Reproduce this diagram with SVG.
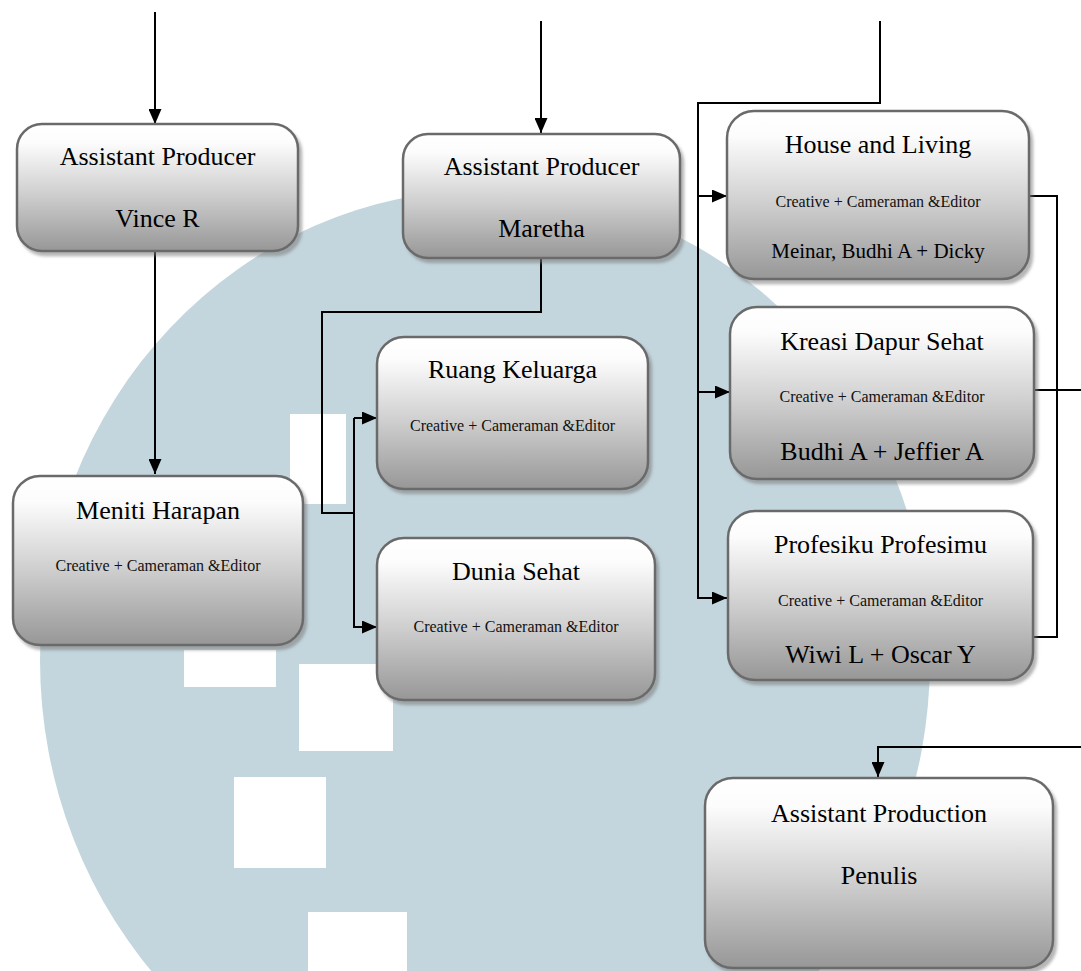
<svg xmlns="http://www.w3.org/2000/svg" width="1081" height="971" viewBox="0 0 1081 971">
<defs>
<linearGradient id="g" x1="0" y1="0" x2="0" y2="1">
<stop offset="0" stop-color="#ffffff"/>
<stop offset="0.15" stop-color="#fcfcfc"/>
<stop offset="0.55" stop-color="#cfcfcf"/>
<stop offset="1" stop-color="#979797"/>
</linearGradient>
<filter id="sh" x="-10%" y="-10%" width="125%" height="130%">
<feDropShadow dx="3" dy="4" stdDeviation="1.5" flood-color="#7a7a7a" flood-opacity="0.55"/>
</filter>
<marker id="ar" markerUnits="userSpaceOnUse" viewBox="0 0 15 13" refX="15" refY="6.5" markerWidth="15" markerHeight="13" orient="auto">
<path d="M0,0 L15,6.5 L0,13 Z" fill="#000"/>
</marker>
<style>
.box{fill:url(#g);stroke:#6b6b6b;stroke-width:2.5;filter:url(#sh)}
.t{font-family:"Liberation Serif","Times New Roman",serif;font-size:26px;fill:#000;text-anchor:middle}
.s{font-family:"Liberation Serif","Times New Roman",serif;font-size:16px;fill:#111;text-anchor:middle}
.m{font-family:"Liberation Serif","Times New Roman",serif;font-size:21px;fill:#000;text-anchor:middle}
.c{fill:none;stroke:#000;stroke-width:2}
</style>
</defs>
<rect width="1081" height="971" fill="#ffffff"/>
<g id="watermark">
<ellipse cx="485" cy="660" rx="445" ry="470" fill="#c3d6dd"/>
<rect x="290" y="414" width="56" height="90" fill="#ffffff"/>
<rect x="184" y="650" width="92" height="37" fill="#ffffff"/>
<rect x="299" y="664" width="94" height="87" fill="#ffffff"/>
<rect x="234" y="777" width="92" height="91" fill="#ffffff"/>
<rect x="308" y="912" width="99" height="59" fill="#ffffff"/>
</g>
<g id="connectors">
<path class="c" d="M155,12 V124" marker-end="url(#ar)"/>
<path class="c" d="M155,251 V474" marker-end="url(#ar)"/>
<path class="c" d="M541,21 V133" marker-end="url(#ar)"/>
<path class="c" d="M880,21 V103 H698 V598 H727" marker-end="url(#ar)"/>
<path class="c" d="M698,196 H727" marker-end="url(#ar)"/>
<path class="c" d="M698,392 H730" marker-end="url(#ar)"/>
<path class="c" d="M1029,196 H1057 V637 H1033"/>
<path class="c" d="M1034,390 H1081"/>
<path class="c" d="M1081,747 H878 V777" marker-end="url(#ar)"/>
<path class="c" d="M541,258 V312 H322 V513 H354"/>
<path class="c" d="M354,418 H377" marker-end="url(#ar)"/>
<path class="c" d="M354,418 V627 H377" marker-end="url(#ar)"/>
</g>
<g id="vince">
<rect class="box" x="17" y="124" width="281" height="127" rx="25"/>
<text class="t" x="157.5" y="165">Assistant Producer</text>
<text class="t" x="157.5" y="227">Vince R</text>
</g>
<g id="maretha">
<rect class="box" x="403" y="134" width="277" height="124" rx="25"/>
<text class="t" x="541.5" y="175">Assistant Producer</text>
<text class="t" x="541.5" y="237">Maretha</text>
</g>
<g id="house">
<rect class="box" x="727" y="111" width="302" height="168" rx="27"/>
<text class="t" x="878" y="153">House and Living</text>
<text class="s" x="878" y="207">Creative + Cameraman &amp;Editor</text>
<text class="m" x="878" y="258">Meinar, Budhi A + Dicky</text>
</g>
<g id="kreasi">
<rect class="box" x="730" y="307" width="304" height="172" rx="27"/>
<text class="t" x="882" y="350">Kreasi Dapur Sehat</text>
<text class="s" x="882" y="402">Creative + Cameraman &amp;Editor</text>
<text class="t" x="882" y="460">Budhi A + Jeffier A</text>
</g>
<g id="profesiku">
<rect class="box" x="728" y="511" width="305" height="169" rx="27"/>
<text class="t" x="880.5" y="553">Profesiku Profesimu</text>
<text class="s" x="880.5" y="606">Creative + Cameraman &amp;Editor</text>
<text class="t" x="880.5" y="663">Wiwi L + Oscar Y</text>
</g>
<g id="meniti">
<rect class="box" x="13" y="476" width="290" height="169" rx="27"/>
<text class="t" x="158" y="519">Meniti Harapan</text>
<text class="s" x="158" y="571">Creative + Cameraman &amp;Editor</text>
</g>
<g id="ruang">
<rect class="box" x="377" y="337" width="271" height="152" rx="27"/>
<text class="t" x="512.5" y="378">Ruang Keluarga</text>
<text class="s" x="512.5" y="431">Creative + Cameraman &amp;Editor</text>
</g>
<g id="dunia">
<rect class="box" x="377" y="538" width="278" height="162" rx="27"/>
<text class="t" x="516" y="580">Dunia Sehat</text>
<text class="s" x="516" y="632">Creative + Cameraman &amp;Editor</text>
</g>
<g id="production">
<rect class="box" x="705" y="778" width="348" height="190" rx="28"/>
<text class="t" x="879" y="822">Assistant Production</text>
<text class="t" x="879" y="884">Penulis</text>
</g>
</svg>
